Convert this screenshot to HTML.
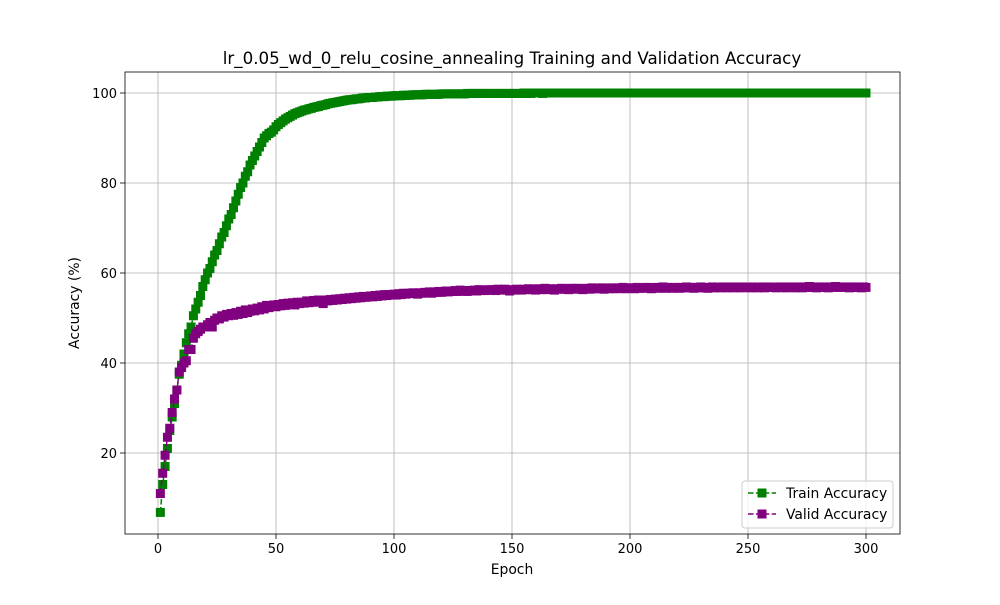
<!DOCTYPE html>
<html><head><meta charset="utf-8"><style>
body{margin:0;background:#fff;}
svg{font-family:"DejaVu Sans","Liberation Sans",sans-serif;}
</style></head><body>
<svg id="chart" width="1000" height="600"></svg>
<script>
const epochs=[];for(let i=1;i<=300;i++)epochs.push(i);
const trainAcc=[
6.8,13,17,21,25,28,31,34,37.5,39.5,
42,44.5,46.5,48,50.5,52,53.5,55,57,58.5,
60,61,62.5,64,65,66.5,68,69,70.5,72,
73,74.5,76,77.5,79,80,81.5,82.5,84,85,
86,87,88,89,90,90.5,91,91.3,91.8,92.5,
93,93.4,93.8,94.2,94.5,94.8,95.1,95.4,95.6,95.8,
96,96.2,96.3,96.5,96.6,96.8,96.9,97,97.2,97.3,
97.4,97.6,97.7,97.8,97.9,98,98.1,98.2,98.3,98.4,
98.5,98.5,98.6,98.7,98.7,98.8,98.9,98.9,99,99,
99,99.1,99.1,99.2,99.2,99.2,99.3,99.3,99.3,99.4,
99.4,99.4,99.4,99.5,99.5,99.5,99.5,99.6,99.6,99.6,
99.6,99.6,99.7,99.7,99.7,99.7,99.7,99.7,99.7,99.8,
99.8,99.8,99.8,99.8,99.8,99.8,99.8,99.8,99.8,99.8,
99.9,99.9,99.9,99.9,99.9,99.9,99.9,99.9,99.9,99.9,
99.9,99.9,99.9,99.9,99.9,99.9,99.9,99.9,99.9,99.9,
99.9,99.9,99.9,99.9,100,99.9,100,99.9,100,100,
100,100,99.9,100,100,100,100,100,100,100,
100,100,100,100,100,100,100,100,100,100,
100,100,100,100,100,100,100,100,100,100,
100,100,100,100,100,100,100,100,100,100,
100,100,100,100,100,100,100,100,100,100,
100,100,100,100,100,100,100,100,100,100,
100,100,100,100,100,100,100,100,100,100,
100,100,100,100,100,100,100,100,100,100,
100,100,100,100,100,100,100,100,100,100,
100,100,100,100,100,100,100,100,100,100,
100,100,100,100,100,100,100,100,100,100,
100,100,100,100,100,100,100,100,100,100,
100,100,100,100,100,100,100,100,100,100,
100,100,100,100,100,100,100,100,100,100];
const validAcc=[
11,15.5,19.5,23.5,25.5,29,32,34,38,39,
40,40.5,43,43,45.5,46.5,47,47.5,48,48,
48.5,49,48,49.5,50,49.8,50.5,50.2,50.8,50.5,
51,50.6,51.2,50.8,51.5,51,51.8,51.2,51.5,52,
51.6,52.2,51.8,52.5,52,52.8,52.3,52.6,52.9,52.5,
53,52.7,53.2,52.8,53.3,53,53.4,52.9,53.5,53.2,
53.5,53.3,53.8,53.4,53.6,53.9,53.5,54,53.7,53.2,
54,53.8,54.1,53.9,54.2,54,54.3,54.1,54.4,54.2,
54.5,54.3,54.6,54.4,54.7,54.5,54.8,54.6,54.7,54.9,
54.7,55,54.8,55.1,54.9,55.2,55,55.2,55.1,55.3,
55.1,55.4,55.2,55.5,55.3,55.5,55.4,55.6,55.5,55.3,
55.6,55.5,55.7,55.6,55.8,55.5,55.8,55.7,55.9,55.7,
55.8,56,55.8,56,55.9,56.1,55.9,56.2,56,56.1,
55.9,56.1,56,56.2,56,56.3,56.1,56.2,56.1,56.3,
56.2,56.3,56.1,56.4,56.2,56.3,56.4,56.2,56,56.3,
56.2,56.4,56.3,56.2,56.4,56.3,56.5,56.3,56.4,56.2,
56.5,56.3,56.4,56.6,56.3,56.5,56.4,56.2,56.5,56.4,
56.6,56.4,56.5,56.3,56.6,56.5,56.4,56.6,56.5,56.3,
56.5,56.6,56.4,56.7,56.5,56.6,56.5,56.7,56.4,56.6,
56.5,56.7,56.6,56.5,56.7,56.6,56.8,56.5,56.7,56.6,
56.7,56.5,56.8,56.6,56.7,56.6,56.8,56.7,56.5,56.7,
56.8,56.6,56.7,56.9,56.6,56.8,56.7,56.6,56.8,56.7,
56.6,56.8,56.7,56.9,56.7,56.8,56.6,56.8,56.7,56.9,
56.7,56.8,56.6,56.8,56.9,56.7,56.8,56.7,56.9,56.8,
56.7,56.9,56.8,56.7,56.9,56.8,56.7,56.9,56.8,56.8,
56.7,56.9,56.8,56.7,56.8,56.9,56.7,56.8,56.9,56.8,
56.8,56.7,56.9,56.8,56.9,56.7,56.8,56.9,56.8,56.7,
56.9,56.8,56.7,56.9,56.8,57,56.8,56.9,56.7,56.9,
56.8,56.9,56.8,56.7,56.9,56.8,57,56.8,56.9,56.8,
56.9,56.8,56.7,56.9,56.8,56.9,56.8,56.7,56.9,56.8];
const xTicks=[0,50,100,150,200,250,300];
const yTicks=[20,40,60,80,100];

const NS="http://www.w3.org/2000/svg";
const svg=document.getElementById('chart');
const L=125,R=900,T=72,B=534;
const X=v=>158+v*(866-158)/300;
const Y=v=>543-v*4.5;
function el(tag,attrs,parent){const e=document.createElementNS(NS,tag);for(const k in attrs)e.setAttribute(k,attrs[k]);(parent||svg).appendChild(e);return e;}

const grid=el('g',{});


xTicks.forEach(t=>{
  el('line',{x1:X(t),x2:X(t),y1:T,y2:B,stroke:'#b0b0b0','stroke-width':0.8},grid);
  el('line',{x1:X(t),x2:X(t),y1:B,y2:B+5,stroke:'#000','stroke-width':0.8},grid);
  const tx=el('text',{x:X(t),y:B+19,'text-anchor':'middle','font-size':13},grid);tx.textContent=t;
  
  
});
yTicks.forEach(t=>{
  el('line',{x1:L,x2:R,y1:Y(t),y2:Y(t),stroke:'#b0b0b0','stroke-width':0.8},grid);
  el('line',{x1:L-5,x2:L,y1:Y(t),y2:Y(t),stroke:'#000','stroke-width':0.8},grid);
  const tx=el('text',{x:L-8,y:Y(t)+5,'text-anchor':'end','font-size':13},grid);tx.textContent=t;
  
  
});

function series(vals,color,name){
  const g=el('g',{});
  
  
  const pts=vals.map((v,i)=>X(epochs[i])+','+Y(v)).join(' ');
  el('polyline',{points:pts,fill:'none',stroke:color,'stroke-width':1.5,'stroke-dasharray':'5.5,2.4'},g);
  vals.forEach((v,i)=>{el('rect',{x:X(epochs[i])-4.5,y:Y(v)-4.5,width:9,height:9,fill:color},g);});
}
series(trainAcc,'#008000','train-accuracy-series');
series(validAcc,'#800080','valid-accuracy-series');

const frame=el('rect',{x:L,y:T,width:R-L,height:B-T,fill:'none',stroke:'#000','stroke-width':0.8});



const title=el('text',{x:512,y:64,'text-anchor':'middle','font-size':16.7});
title.textContent='lr_0.05_wd_0_relu_cosine_annealing Training and Validation Accuracy';


const xl=el('text',{x:512,y:574,'text-anchor':'middle','font-size':13.9});
xl.textContent='Epoch';


const yl=el('text',{x:0,y:0,'text-anchor':'middle','font-size':13.9,transform:'translate(79,303) rotate(-90)'});
yl.textContent='Accuracy (%)';



const lg=el('g',{});


el('rect',{x:742,y:481,width:151,height:47,rx:3,fill:'#fff','fill-opacity':0.8,stroke:'#ccc'},lg);
[['Train Accuracy','#008000',493],['Valid Accuracy','#800080',514]].forEach(([t,c,y])=>{
  const e=el('g',{},lg);
  
  
  el('line',{x1:748,x2:776,y1:y,y2:y,stroke:c,'stroke-width':1.5,'stroke-dasharray':'5.5,2.4'},e);
  el('rect',{x:757.5,y:y-4.5,width:9,height:9,fill:c},e);
  const tx=el('text',{x:786,y:y+5,'font-size':13.9},e);tx.textContent=t;
});
</script>
</body></html>
